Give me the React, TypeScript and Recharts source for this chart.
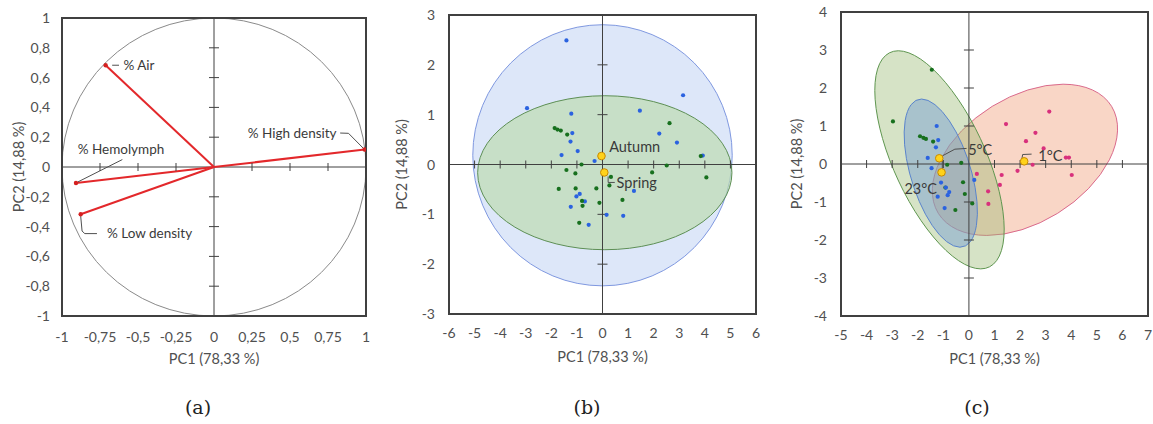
import React from "react";
import {
  ScatterChart,
  Scatter,
  XAxis,
  YAxis,
  ReferenceLine,
  ReferenceArea
} from "recharts";

const tickGray = "#505050";
const frameColor = "#404040";
const labelColor = "#3a3a3a";
const font = "Lato, 'Open Sans', sans-serif";

const pc1Title = "PC1 (78,33 %)";
const pc2Title = "PC2 (14,88 %)";
const captions = ["(a)", "(b)", "(c)"];

// ---------- (a) correlation circle ----------
const loadingNames = ["% Air", "% High density", "% Hemolymph", "% Low density"];
const loadingX = [-0.713, 0.991, -0.908, -0.877];
const loadingY = [0.683, 0.117, -0.107, -0.317];
// label anchors (data units), text starts here
const loadingLabelX = [-0.596, 0.222, -0.897, -0.704];
const loadingLabelY = [0.683, 0.224, 0.117, -0.447];
const loadingLeaders: [number, number][][] = [
  [[-0.67, 0.683], [-0.625, 0.683]],
  [[0.83, 0.228], [0.885, 0.226], [0.983, 0.125]],
  [[-0.603, 0.05], [-0.895, -0.1]],
  [[-0.877, -0.33], [-0.868, -0.43], [-0.85, -0.447], [-0.77, -0.447]]
];
const aTicksX = [-1, -0.75, -0.5, -0.25, 0, 0.25, 0.5, 0.75, 1];
const aTicksY = [-1, -0.8, -0.6, -0.4, -0.2, 0, 0.2, 0.4, 0.6, 0.8, 1];
const aMarksX = [-0.75, -0.5, -0.25, 0.25, 0.5, 0.75];
const aMarksY = [-0.8, -0.6, -0.4, -0.2, 0.2, 0.4, 0.6, 0.8];

// ---------- (b) season scores ----------
const autumnPoints: [number, number][] = [
  [-1.41, 2.49], [-2.95, 1.13], [-1.22, 1.02], [1.46, 1.08], [3.15, 1.39],
  [-1.18, 0.63], [-1.25, 0.46], [2.22, 0.62], [2.91, 0.44], [-1.6, 0.19],
  [-0.97, 0.27], [-0.31, 0.07], [3.92, 0.18], [1.23, -0.53], [-1.02, -0.64],
  [-0.89, -0.59], [-0.69, -0.74], [-1.24, -0.85], [0.16, -1.01], [0.81, -1.03],
  [-0.54, -1.21]
];
const springPoints: [number, number][] = [
  [-1.87, 0.73], [-1.76, 0.7], [-1.63, 0.68], [-1.38, 0.6], [2.62, 0.83],
  [3.84, 0.17], [-0.82, 0.0], [2.51, -0.02], [-1.41, -0.11], [-1.06, -0.18],
  [1.94, -0.16], [4.06, -0.26], [0.33, -0.25], [0.27, -0.42], [-1.71, -0.49],
  [-1.05, -0.48], [-0.24, -0.48], [0.78, -0.71], [-0.8, -0.73], [-0.78, -0.83],
  [-0.12, -0.77], [-0.91, -1.17]
];
const seasonCentroids: [number, number][] = [[-0.04, 0.17], [0.07, -0.16]];
const seasonNames = ["Autumn", "Spring"];
const seasonLabelPos: [number, number][] = [[0.26, 0.36], [0.55, -0.37]];
const seasonLeaders: [number, number][][] = [
  [[0.22, -0.24], [0.22, -0.36], [0.48, -0.36]]
];
const bTicksX = [-6, -5, -4, -3, -2, -1, 0, 1, 2, 3, 4, 5, 6];
const bTicksY = [-3, -2, -1, 0, 1, 2, 3];
const bMarksX = [-5, -4, -3, -2, -1, 1, 2, 3, 4, 5];
const bMarksY = [-2, -1, 1, 2];

// ---------- (c) temperature scores ----------
const t5Points: [number, number][] = [
  [-1.45, 2.48], [-2.97, 1.12], [-1.91, 0.73], [-1.78, 0.69], [-1.68, 0.66],
  [-1.4, 0.59], [-0.85, -0.02], [-0.3, 0.03], [-0.92, -0.62],
  [-0.23, -0.48], [-0.16, -0.79], [0.13, -1.04], [-0.53, -1.21]
];
const t23Points: [number, number][] = [
  [-1.26, 1.0], [-1.2, 0.63], [-1.29, 0.44], [-1.61, 0.16], [-1.46, -0.11],
  [-1.09, -0.49], [-0.9, -0.62], [-0.77, -0.74], [-0.83, -0.82], [-1.22, -0.86],
  [0.21, -0.42], [-0.95, -1.16]
];
const t1Points: [number, number][] = [
  [3.14, 1.38], [1.45, 1.05], [2.6, 0.82], [2.23, 0.6], [2.92, 0.41],
  [3.79, 0.17], [3.91, 0.17], [2.49, -0.02], [1.9, -0.18], [4.02, -0.29],
  [0.31, -0.26], [1.28, -0.29], [1.21, -0.55], [0.75, -0.72], [0.76, -1.05]
];
const tempCentroids: [number, number][] = [[-1.16, 0.15], [-1.07, -0.22], [2.16, 0.07]];
const tempNames = ["5°C", "23°C", "1°C"];
const tempLabelPos: [number, number][] = [[-0.03, 0.38], [-1.25, -0.66], [2.71, 0.2]];
const tempLabelAnchor = ["start", "end", "start"];
const tempLeaders: [number, number][][] = [
  [[-1.02, 0.22], [-0.55, 0.39], [-0.09, 0.41]],
  [[-1.04, -0.18], [-1.04, 0.22]],
  [[2.06, 0.09], [2.1, 0.25], [2.45, 0.26]]
];
const cTicksX = [-5, -4, -3, -2, -1, 0, 1, 2, 3, 4, 5, 6, 7];
const cTicksY = [-4, -3, -2, -1, 0, 1, 2, 3, 4];
const cMarksX = [-4, -3, -2, -1, 1, 2, 3, 4, 5, 6];
const cMarksY = [-3, -2, -1, 1, 2, 3];

// ellipses: centre + two conjugate semi-diameters, data units
type Ell = {
  cx: number;
  cy: number;
  u: [number, number];
  v: [number, number];
  fill: string;
  op: number;
  stroke: string;
};
const circleA: Ell = { cx: 0, cy: 0, u: [0, 1], v: [1, 0], fill: "none", op: 0, stroke: "#8a8a8a" };
const seasonEllipses: Ell[] = [
  { cx: 0, cy: 0.185, u: [0, 2.62], v: [5.07, 0], fill: "#8fb0ea", op: 0.3, stroke: "#7f98e0" },
  { cx: 0.09, cy: -0.165, u: [0, 1.545], v: [4.97, 0], fill: "#bddbb0", op: 0.68, stroke: "#5d8f55" }
];
const tempEllipses: Ell[] = [
  { cx: 2.19, cy: 0.11, u: [1.49, 1.99], v: [3.3, 0], fill: "#f2a480", op: 0.45, stroke: "#da6a8c" },
  { cx: -1.15, cy: 0.11, u: [-1.61, 2.87], v: [1.95, 0], fill: "#99b971", op: 0.4, stroke: "#5f9650" },
  { cx: -1.1, cy: -0.24, u: [-0.75, 1.95], v: [1.22, 0], fill: "#7299d3", op: 0.45, stroke: "#5a84cc" }
];

const comma = (v: number) => String(v).replace(".", ",");
const toXY = (pts: [number, number][]) => pts.map(([x, y]) => ({ x, y }));

// tick labels drawn at the positions recharts hands over
const xTick = (p: any) => (
  <text
    x={p.x}
    y={p.y}
    dy="0.71em"
    textAnchor="middle"
    fontSize={14}
    fontFamily={font}
    fill={tickGray}
  >
    {comma(p.payload.value)}
  </text>
);
const yTick = (p: any) => (
  <text
    x={p.x}
    y={p.y}
    dy="0.36em"
    textAnchor="end"
    fontSize={14}
    fontFamily={font}
    fill={tickGray}
  >
    {comma(p.payload.value)}
  </text>
);

function ellipseShape(e: Ell) {
  return (p: any) => {
    const sx = p.width / 2;
    const sy = p.height / 2;
    const ox = p.x + sx;
    const oy = p.y + sy;
    const m = [sx * e.u[0], -sy * e.u[1], sx * e.v[0], -sy * e.v[1], ox, oy].join(" ");
    return (
      <circle
        cx={0}
        cy={0}
        r={1}
        transform={`matrix(${m})`}
        fill={e.fill}
        fillOpacity={e.op}
        stroke={e.stroke}
        strokeWidth={1}
        vectorEffect="non-scaling-stroke"
      />
    );
  };
}

function renderEllipse(e: Ell, key: string) {
  return (
    <ReferenceArea
      key={key}
      x1={e.cx - 1}
      x2={e.cx + 1}
      y1={e.cy - 1}
      y2={e.cy + 1}
      ifOverflow="visible"
      shape={ellipseShape(e)}
    />
  );
}

const dot = (color: string, r: number, stroke?: string) => (p: any) =>
  <circle cx={p.cx} cy={p.cy} r={r} fill={color} stroke={stroke || "none"} strokeWidth={1} />;

const vMark = (p: any) =>
  <line x1={p.cx} x2={p.cx} y1={p.cy - 4} y2={p.cy + 4} stroke={frameColor} strokeWidth={1} />;
const hMark = (p: any) =>
  <line x1={p.cx - 5} x2={p.cx + 5} y1={p.cy} y2={p.cy} stroke={frameColor} strokeWidth={1} />;

const textShape = (size: number) => (p: any) => {
  const d = p.payload || p;
  return (
    <text
      x={p.cx}
      y={p.cy}
      dy="0.35em"
      textAnchor={d.anchor || "start"}
      fontSize={size}
      fontFamily={font}
      fill={labelColor}
    >
      {d.label}
    </text>
  );
};

function renderLeaders(lines: [number, number][][], prefix: string, color = "#505050") {
  const out: React.ReactNode[] = [];
  lines.forEach((pts, i) => {
    for (let k = 0; k < pts.length - 1; k++) {
      out.push(
        <ReferenceLine
          key={`${prefix}-${i}-${k}`}
          segment={[
            { x: pts[k][0], y: pts[k][1] },
            { x: pts[k + 1][0], y: pts[k + 1][1] }
          ]}
          stroke={color}
          strokeWidth={1}
        />
      );
    }
  });
  return out;
}

function axes(
  xDomain: [number, number],
  yDomain: [number, number],
  xTicks: number[],
  yTicks: number[],
  yWidth: number,
  xTickMargin: number,
  yTickMargin: number,
  titleOffset: number
) {
  return [
    <XAxis
      key="x"
      type="number"
      dataKey="x"
      domain={xDomain}
      ticks={xTicks}
      interval={0}
      allowDataOverflow
      axisLine={false}
      tickLine={false}
      tickSize={0}
      tickMargin={xTickMargin}
      height={50}
      tick={xTick}
      label={{
        value: pc1Title,
        position: "insideBottom",
        offset: titleOffset,
        fill: tickGray,
        fontSize: 14.5,
        fontFamily: font
      }}
    />,
    <YAxis
      key="y"
      type="number"
      dataKey="y"
      domain={yDomain}
      ticks={yTicks}
      interval={0}
      allowDataOverflow
      axisLine={false}
      tickLine={false}
      tickSize={0}
      tickMargin={yTickMargin}
      width={yWidth}
      tick={yTick}
      label={{
        value: pc2Title,
        angle: -90,
        position: "insideLeft",
        offset: 5,
        fill: tickGray,
        fontSize: 14.5,
        fontFamily: font,
        style: { textAnchor: "middle" }
      }}
    />
  ];
}

function frame(xDomain: [number, number], yDomain: [number, number], xm: number[], ym: number[]) {
  return [
    <ReferenceLine key="z0x" x={0} stroke={frameColor} strokeWidth={1} />,
    <ReferenceLine key="z0y" y={0} stroke={frameColor} strokeWidth={1} />,
    <Scatter key="mx" data={xm.map(x => ({ x, y: 0 }))} shape={vMark} isAnimationActive={false} />,
    <Scatter key="my" data={ym.map(y => ({ x: 0, y }))} shape={hMark} isAnimationActive={false} />,
    <ReferenceArea
      key="box"
      x1={xDomain[0]}
      x2={xDomain[1]}
      y1={yDomain[0]}
      y2={yDomain[1]}
      fill="none"
      stroke={frameColor}
      strokeWidth={2}
      ifOverflow="visible"
    />
  ];
}

function PanelA() {
  const xd: [number, number] = [-1, 1];
  const yd: [number, number] = [-1, 1];
  const ends = loadingX.map((x, i) => ({ x, y: loadingY[i] }));
  const labels = loadingNames.map((label, i) => ({
    x: loadingLabelX[i],
    y: loadingLabelY[i],
    label
  }));
  return (
    <ScatterChart width={380} height={424} margin={{ top: 18, right: 14, bottom: 58, left: 14 }}>
      {axes(xd, yd, aTicksX, aTicksY, 48, 16, 12, 2)}
      {renderEllipse(circleA, "circ")}
      {frame(xd, yd, aMarksX, aMarksY)}
      {ends.map((p, i) => (
        <ReferenceLine
          key={`vec${i}`}
          segment={[{ x: 0, y: 0 }, { x: p.x, y: p.y }]}
          stroke="#e3282b"
          strokeWidth={2}
        />
      ))}
      {renderLeaders(loadingLeaders, "la")}
      <Scatter data={ends} shape={dot("#d42020", 2.2)} isAnimationActive={false} />
      <Scatter data={labels} shape={textShape(13.5)} isAnimationActive={false} />
    </ScatterChart>
  );
}

function PanelB() {
  const xd: [number, number] = [-6, 6];
  const yd: [number, number] = [-3, 3];
  const labels = seasonNames.map((label, i) => ({
    x: seasonLabelPos[i][0],
    y: seasonLabelPos[i][1],
    label
  }));
  return (
    <ScatterChart width={390} height={424} margin={{ top: 15, right: 14, bottom: 60, left: 17 }}>
      {axes(xd, yd, bTicksX, bTicksY, 52, 14, 14, 2)}
      {seasonEllipses.map((e, i) => renderEllipse(e, `se${i}`))}
      {frame(xd, yd, bMarksX, bMarksY)}
      {renderLeaders(seasonLeaders, "lb")}
      <Scatter data={toXY(autumnPoints)} shape={dot("#2a62e0", 2.1)} isAnimationActive={false} />
      <Scatter data={toXY(springPoints)} shape={dot("#17701e", 2.1)} isAnimationActive={false} />
      <Scatter data={toXY(seasonCentroids)} shape={dot("#ffd21a", 3.8, "#c98a00")} isAnimationActive={false} />
      <Scatter data={labels} shape={textShape(14.5)} isAnimationActive={false} />
    </ScatterChart>
  );
}

function PanelC() {
  const xd: [number, number] = [-5, 7];
  const yd: [number, number] = [-4, 4];
  const labels = tempNames.map((label, i) => ({
    x: tempLabelPos[i][0],
    y: tempLabelPos[i][1],
    label,
    anchor: tempLabelAnchor[i]
  }));
  return (
    <ScatterChart width={383} height={424} margin={{ top: 12, right: 5, bottom: 58, left: 22 }}>
      {axes(xd, yd, cTicksX, cTicksY, 49, 14, 14, 2)}
      {tempEllipses.map((e, i) => renderEllipse(e, `te${i}`))}
      {frame(xd, yd, cMarksX, cMarksY)}
      {renderLeaders(tempLeaders, "lc")}
      <Scatter data={toXY(t5Points)} shape={dot("#17701e", 2.1)} isAnimationActive={false} />
      <Scatter data={toXY(t23Points)} shape={dot("#2a62e0", 2.1)} isAnimationActive={false} />
      <Scatter data={toXY(t1Points)} shape={dot("#d8307c", 2.1)} isAnimationActive={false} />
      <Scatter data={toXY(tempCentroids)} shape={dot("#ffd21a", 3.8, "#c98a00")} isAnimationActive={false} />
      <Scatter data={labels} shape={textShape(14.5)} isAnimationActive={false} />
    </ScatterChart>
  );
}

const captionX = [198, 587, 977];
const panelLeft = [0, 380, 770];

export default function App() {
  return (
    <div
      style={{
        position: "relative",
        width: 1153,
        height: 424,
        background: "#fff"
      }}
    >
      <style>{"html,body{margin:0;padding:0;overflow:hidden;}"}</style>
      <div style={{ position: "absolute", left: panelLeft[0], top: 0 }}>
        <PanelA />
      </div>
      <div style={{ position: "absolute", left: panelLeft[1], top: 0 }}>
        <PanelB />
      </div>
      <div style={{ position: "absolute", left: panelLeft[2], top: 0 }}>
        <PanelC />
      </div>
      {captions.map((c, i) => (
        <div
          key={c}
          style={{
            position: "absolute",
            left: captionX[i] - 40,
            width: 80,
            top: 395,
            lineHeight: "24px",
            textAlign: "center",
            fontFamily: "'DejaVu Serif', serif",
            fontSize: 19,
            color: "#222"
          }}
        >
          {c}
        </div>
      ))}
    </div>
  );
}
